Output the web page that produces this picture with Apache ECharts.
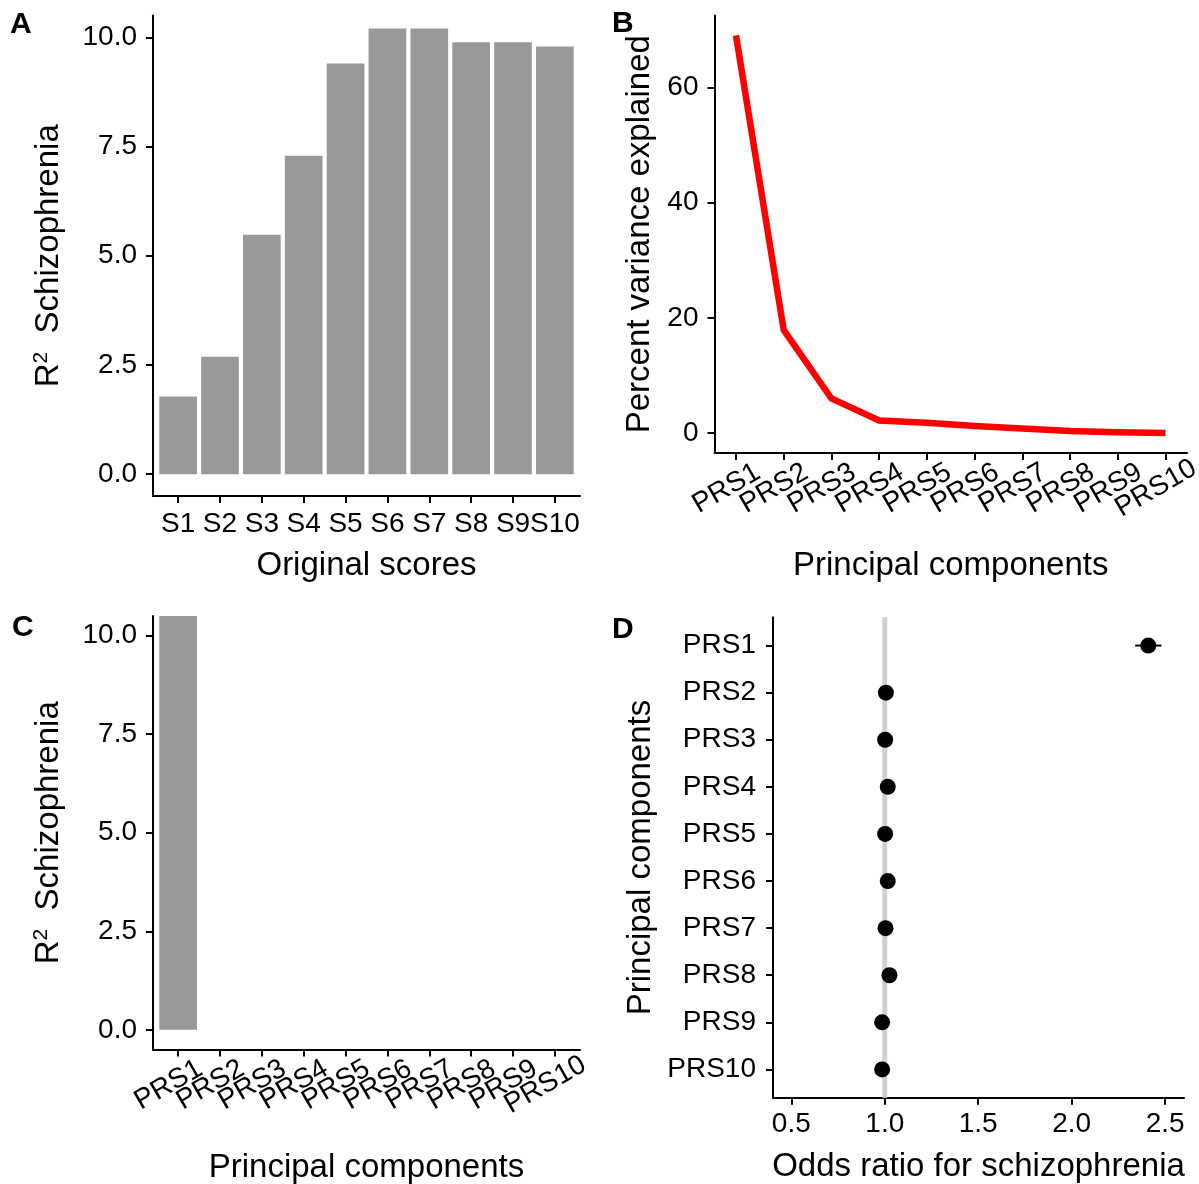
<!DOCTYPE html>
<html>
<head>
<meta charset="utf-8">
<title>PRS figure</title>
<script src="https://cdn.jsdelivr.net/npm/echarts@6/dist/echarts.min.js"></script>
<style>
  html, body { margin: 0; padding: 0; background: #fff; }
  #chart { width: 1199px; height: 1184px; }
</style>
</head>
<body>
<div id="chart"></div>
<script>
// panel A: original scores
const scoreLabels = ['S1', 'S2', 'S3', 'S4', 'S5', 'S6', 'S7', 'S8', 'S9', 'S10'];
const r2Original = [1.78, 2.69, 5.48, 7.29, 9.40, 10.20, 10.20, 9.89, 9.89, 9.79];

// panels B, C, D: principal components
const pcLabels = ['PRS1', 'PRS2', 'PRS3', 'PRS4', 'PRS5', 'PRS6', 'PRS7', 'PRS8', 'PRS9', 'PRS10'];
const varExplained = [69.0, 17.9, 6.0, 2.2, 1.8, 1.25, 0.8, 0.35, 0.15, 0.0];
const r2PC = [10.6, 0, 0, 0, 0, 0, 0, 0, 0, 0];
const oddsRatio = [2.41, 1.006, 1.002, 1.016, 1.002, 1.016, 1.004, 1.025, 0.986, 0.986];
const ciLow = [2.34, 0.996, 0.992, 1.006, 0.992, 1.006, 0.994, 1.015, 0.976, 0.976];
const ciHigh = [2.48, 1.016, 1.012, 1.026, 1.012, 1.026, 1.014, 1.035, 0.996, 0.996];
const refOdds = 1.0;

// tick labels
const r2Ticks = [0, 2.5, 5, 7.5, 10];
const varTicks = [0, 20, 40, 60];
const orTicks = [0.5, 1.0, 1.5, 2.0, 2.5];
const positions = pcLabels.map((_, i) => i + 1);
const oddPos = positions.filter(p => p % 2 === 1);
const evenPos = positions.filter(p => p % 2 === 0);

const FONT = '"Liberation Sans", Arial, sans-serif';
const TICK_SIZE = 28;
const TITLE_SIZE = 33;

const chart = echarts.init(document.getElementById('chart'));

const axisBase = (ticks, fmt, margin, extra) => Object.assign({
  type: 'value',
  axisLine: { show: true, onZero: false, lineStyle: { color: '#000', width: 2 } },
  axisTick: { show: true, length: 7, customValues: ticks, lineStyle: { color: '#000', width: 2 } },
  axisLabel: {
    customValues: ticks, formatter: fmt, color: '#000',
    fontSize: TICK_SIZE, fontFamily: FONT, margin: margin,
    showMinLabel: true, showMaxLabel: true
  },
  splitLine: { show: false },
  nameLocation: 'middle',
  nameMoveOverlap: false,
  nameTextStyle: { color: '#000', fontSize: TITLE_SIZE, fontFamily: FONT }
}, extra);

const rotatedLabels = (ticks) => ({
  customValues: ticks,
  formatter: v => pcLabels[Math.round(v) - 1],
  color: '#000', fontSize: TICK_SIZE, fontFamily: FONT,
  rotate: 30, align: 'center', verticalAlign: 'middle',
  padding: [0, 22, 0, 0], margin: 30,
  showMinLabel: true, showMaxLabel: true
});

// rotated PRS labels are split over two stacked axes (odd / even) so that
// echarts does not drop neighbouring labels as overlapping
const pcAxes = (gridIndex, min, max, name, nameGap) => [
  axisBase(positions, null, 30, {
    gridIndex, min, max, name, nameGap, position: 'bottom',
    axisLabel: rotatedLabels(oddPos)
  }),
  axisBase(positions, null, 30, {
    gridIndex, min, max, position: 'bottom', offset: 0,
    axisLine: { show: false }, axisTick: { show: false },
    axisLabel: rotatedLabels(evenPos)
  })
];

const r2Name = {
  name: '{r|R}{s|2}{r|  Schizophrenia}',
  nameTextStyle: {
    color: '#000', fontFamily: FONT,
    rich: {
      r: { fontSize: TITLE_SIZE, fontFamily: FONT, color: '#000', lineHeight: 36 },
      s: { fontSize: 21, fontFamily: FONT, color: '#000', verticalAlign: 'top', lineHeight: 18 }
    }
  }
};

const letter = (text, left, top) => ({
  type: 'text', left, top,
  style: { text, fontSize: 30, fontWeight: 'bold', fontFamily: FONT, fill: '#000' }
});

const [xB, xB2] = pcAxes(1, 0.55, 10.45, 'Principal components', 96);
const [xC, xC2] = pcAxes(2, 0.4, 10.6, 'Principal components', 102);

chart.setOption({
  animation: false,
  backgroundColor: '#fff',
  grid: [
    { left: 153, top: 15.5, width: 427, height: 480.5, outerBoundsMode: 'none' },
    { left: 714.5, top: 15.5, width: 472.5, height: 437.5, outerBoundsMode: 'none' },
    { left: 153, top: 616, width: 427, height: 433.5, outerBoundsMode: 'none' },
    { left: 773, top: 617.3, width: 411, height: 480.4, outerBoundsMode: 'none' }
  ],
  xAxis: [
    axisBase(positions, v => scoreLabels[Math.round(v) - 1], 14,
      { gridIndex: 0, min: 0.4, max: 10.6, name: 'Original scores', nameGap: 53 }),
    xB,
    xC,
    axisBase(orTicks, v => v.toFixed(1), 13,
      { gridIndex: 3, min: 0.402, max: 2.601, name: 'Odds ratio for schizophrenia', nameGap: 53 }),
    xB2,
    xC2
  ],
  yAxis: [
    axisBase(r2Ticks, v => v.toFixed(1), 16,
      Object.assign({ gridIndex: 0, min: -0.5, max: 10.5, nameGap: 86 }, r2Name)),
    axisBase(varTicks, v => String(v), 16,
      { gridIndex: 1, min: -3.45, max: 72.45, name: 'Percent variance explained', nameGap: 58 }),
    axisBase(r2Ticks, v => v.toFixed(1), 16,
      Object.assign({ gridIndex: 2, min: -0.5, max: 10.5, nameGap: 86 }, r2Name)),
    axisBase(positions, v => pcLabels[Math.round(v) - 1], 17,
      { gridIndex: 3, min: 0.4, max: 10.6, inverse: true, name: 'Principal components', nameGap: 116 })
  ],
  series: [
    {
      type: 'bar', xAxisIndex: 0, yAxisIndex: 0, barWidth: 37.7,
      itemStyle: { color: '#999999' },
      data: r2Original.map((v, i) => [i + 1, v])
    },
    {
      type: 'line', xAxisIndex: 1, yAxisIndex: 1, showSymbol: false,
      lineStyle: { color: '#ff0000', width: 6.5, cap: 'butt', join: 'miter' },
      data: varExplained.map((v, i) => [i + 1, v])
    },
    {
      type: 'bar', xAxisIndex: 2, yAxisIndex: 2, barWidth: 37.7, clip: true,
      itemStyle: { color: '#999999' },
      data: r2PC.map((v, i) => [i + 1, v])
    },
    {
      // reference line at OR = 1
      type: 'custom', xAxisIndex: 3, yAxisIndex: 3, z: 1,
      data: [[refOdds]],
      renderItem: (params, api) => {
        const x = api.coord([api.value(0), 1])[0];
        const cs = params.coordSys;
        return {
          type: 'line',
          shape: { x1: x, y1: cs.y, x2: x, y2: cs.y + cs.height },
          style: { stroke: '#d0d0d0', lineWidth: 5 }
        };
      }
    },
    {
      // confidence intervals
      type: 'custom', xAxisIndex: 3, yAxisIndex: 3, z: 2,
      encode: { x: [0, 1], y: 2 },
      data: ciLow.map((lo, i) => [lo, ciHigh[i], i + 1]),
      renderItem: (params, api) => {
        const a = api.coord([api.value(0), api.value(2)]);
        const b = api.coord([api.value(1), api.value(2)]);
        return {
          type: 'line',
          shape: { x1: a[0], y1: a[1], x2: b[0], y2: b[1] },
          style: { stroke: '#000', lineWidth: 2 }
        };
      }
    },
    {
      type: 'scatter', xAxisIndex: 3, yAxisIndex: 3, z: 3,
      symbol: 'circle', symbolSize: 16,
      itemStyle: { color: '#000', opacity: 1 },
      data: oddsRatio.map((v, i) => [v, i + 1])
    }
  ],
  graphic: [
    letter('A', 10, 10),
    letter('B', 612, 9),
    letter('C', 12, 613),
    letter('D', 612, 615)
  ]
});
</script>
</body>
</html>
